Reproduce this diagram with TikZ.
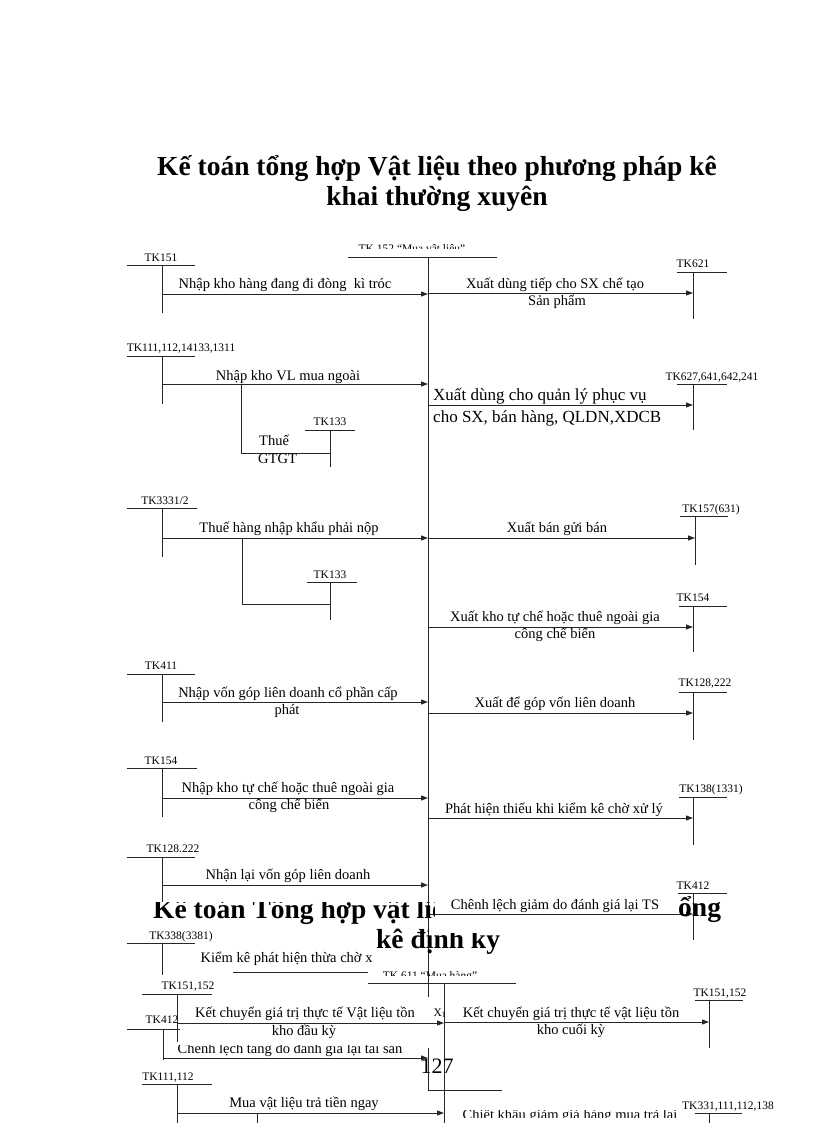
\documentclass[tikz,border=0pt]{standalone}
\usepackage{fontspec}
\setmainfont{Liberation Serif}
\usetikzlibrary{arrows.meta}
\newcommand\myfs[1]{\fontsize{#1}{#1}\selectfont}
\tikzset{
 ln/.style={line width=1pt, draw=black!85},
 arr/.style={ln, -{Triangle[length=7pt,width=5pt]}},
 tk/.style={font=\myfs{11.5}, inner sep=0pt, anchor=base},
 lb/.style={font=\myfs{14.5}, inner sep=0pt, anchor=base},
 big/.style={font=\myfs{17}, inner sep=0pt, anchor=base west},
 ttl/.style={font=\bfseries\myfs{27.5}, inner sep=0pt, anchor=base},
 ttlw/.style={font=\bfseries\myfs{27.5}, inner sep=0pt, anchor=base west},
}
% T-account: name, x of stem, y of bar, bar left, bar right, stem end, label x, label baseline, text
\newcommand\Tacc[9]{%
  \node[tk] (#1) at (#7,#8) {#9};
  \coordinate (#1-l) at (#4,#3);
  \coordinate (#1-r) at (#5,#3);
  \coordinate (#1-t) at (#2,#3);
  \coordinate (#1-b) at (#2,#6);
  \draw[ln] (#1-l) -- (#1-r);
  \draw[ln] (#1-t) -- (#1-b);}
% arrow: name, x start, x end, y
\newcommand\Arr[4]{%
  \coordinate (#1-s) at (#2,#4);
  \coordinate (#1-e) at (#3,#4);
  \draw[arr] (#1-s) -- (#1-e);}
\begin{document}
\begin{tikzpicture}[x=1pt,y=-1pt]
\useasboundingbox (0,0) rectangle (816,1123);
\clip (0,0) rectangle (816,1123);
\fill[white] (0,0) rectangle (816,1123);

% ---------- title ----------
\node[ttl] (t1) at (437,176) {Kế toán tổng hợp Vật liệu theo phương pháp kê};
\node[ttl] (t2) at (437,206) {khai thường xuyên};

% ---------- central account TK152 ----------
\begin{scope}
  \clip (330,230) rectangle (520,248.5);
  \node[tk] (h1) at (412,252) {TK 152 “Mua vật liệu”};
\end{scope}
\coordinate (cb-l) at (348,257); \coordinate (cb-r) at (497,257);
\coordinate (c-top) at (428,257); \coordinate (c-bot) at (428,997);
\draw[ln] (cb-l) -- (cb-r);
\draw[ln] (c-top) -- (c-bot);

% ---------- left accounts ----------
\Tacc{tkA}{162}{265}{127}{195}{313}{161}{261}{TK151}
\Tacc{tkB}{162}{356}{127}{195}{404}{181}{351}{TK111,112,14133,1311}
\Tacc{tkC}{330}{430}{305}{355}{467}{330}{425}{TK133}
\Tacc{tkD}{162}{508}{127}{197}{557}{165}{504}{TK3331/2}
\Tacc{tkE}{330}{582}{307}{357}{620}{330}{578}{TK133}
\Tacc{tkF}{162}{674}{127}{195}{722}{161}{669}{TK411}
\Tacc{tkG}{162}{768}{127}{197}{817}{161}{764}{TK154}
\Tacc{tkH}{162}{857}{127}{195}{902}{173}{852}{TK128.222}
\Tacc{tkI}{162}{943}{127}{195}{975}{181}{939}{TK338(3381)}

% ---------- right accounts ----------
\Tacc{tkJ}{693}{272}{677}{727}{319}{693}{267}{TK621}
\Tacc{tkK}{693}{384}{677}{727}{430}{712}{380}{TK627,641,642,241}
\Tacc{tkL}{695}{516}{680}{728}{565}{711}{512}{TK157(631)}
\Tacc{tkM}{693}{606}{679}{727}{652}{693}{601}{TK154}
\Tacc{tkN}{693}{692}{679}{727}{740}{705}{686}{TK128,222}
\Tacc{tkO}{693}{797}{679}{727}{845}{711}{792}{TK138(1331)}
\Tacc{tkP}{693}{893}{678}{727}{940}{693}{889}{TK412}

% ---------- arrows into TK152 ----------
\Arr{aA}{162}{428}{294}
\Arr{aB}{162}{428}{384}
\Arr{aD}{162}{428}{538}
\Arr{aF}{162}{428}{702}
\Arr{aG}{162}{428}{798}
\Arr{aH}{162}{428}{885}
% VAT branches
\coordinate (bB1) at (241,384); \coordinate (bB2) at (241,453); \coordinate (bB3) at (330,453);
\draw[ln] (bB1) -- (bB2) -- (bB3);
\coordinate (bD1) at (242,538); \coordinate (bD2) at (242,604); \coordinate (bD3) at (330,604);
\draw[ln] (bD1) -- (bD2) -- (bD3);

% ---------- arrows out of TK152 ----------
\Arr{aJ}{428}{693}{293}
\Arr{aK}{428}{693}{405}
\Arr{aL}{428}{695}{538}
\Arr{aM}{428}{693}{627}
\Arr{aN}{428}{693}{713}
\Arr{aO}{428}{693}{818}
\Arr{aP}{428}{693}{914}

% ---------- labels left ----------
\node[lb] (lA) at (285,288) {Nhập kho hàng đang đi đòng\ \ kì tróc};
\node[lb] (lB) at (288,380) {Nhập kho VL mua ngoài};
\node[lb, anchor=base west] (lB2) at (259,445) {Thuế};
\node[lb, anchor=base west] (lB3) at (258,463) {GTGT};
\node[lb] (lD) at (289,532) {Thuế hàng nhập khẩu phải nộp};
\node[lb] (lF) at (288,697) {Nhập vốn góp liên doanh cổ phần cấp};
\node[lb] (lF2) at (287,714) {phát};
\node[lb] (lG) at (288,792) {Nhập kho tự chế hoặc thuê ngoài gia};
\node[lb] (lG2) at (289,809) {công chế biến};
\node[lb] (lH) at (288,879) {Nhận lại vốn góp liên doanh};
\begin{scope}
  \clip (150,940) rectangle (371,975);
  \node[lb] (lI) at (298,962) {Kiểm kê phát hiện thừa chờ xử lý};
\end{scope}
\coordinate (lI-s) at (233,972); \coordinate (lI-e) at (368,972);
\draw[ln] (lI-s) -- (lI-e);

% ---------- labels right ----------
\node[lb] (lJ) at (555,288) {Xuất dùng tiếp cho SX chế tạo};
\node[lb] (lJ2) at (557,305) {Sản phẩm};
\node[big] (lK) at (433,400) {Xuất dùng cho quản lý phục vụ};
\node[big] (lK2) at (433,422) {cho SX, bán hàng, QLDN,XDCB};
\node[lb] (lL) at (557,532) {Xuất bán gửi bán};
\node[lb] (lM) at (555,621) {Xuất kho tự chế hoặc thuê ngoài gia};
\node[lb] (lM2) at (555,638) {công chế biến};
\node[lb] (lN) at (555,707) {Xuất để góp vốn liên doanh};
\node[lb] (lO) at (554,813) {Phát hiện thiếu khi kiểm kê chờ xử lý};
\node[lb] (lP) at (555,909) {Chênh lệch giảm do đánh giá lại TS};

% ---------- second title (partly covered) ----------
\begin{scope}
  \clip (140,902) rectangle (434,935);
  \node[ttlw] (s1) at (153,918) {Kế toán Tổng hợp vật liệu};
\end{scope}
\node[ttlw] (s1b) at (678,916) {ổng};
\begin{scope}
  \clip (360,920) rectangle (428,960);
  \node[ttlw] (s2) at (376,948) {kê định kỳ};
\end{scope}
\begin{scope}
  \clip (428,933) rectangle (520,960);
  \node[ttlw] (s2b) at (376,948) {kê định kỳ};
\end{scope}

% ---------- second diagram: TK611 ----------
\begin{scope}
  \clip (360,960) rectangle (520,975.5);
  \node[tk] (h2) at (430,979) {TK 611 “Mua hàng”};
\end{scope}
\coordinate (db-l) at (368,983); \coordinate (db-r) at (516,983);
\coordinate (d-top) at (444,983); \coordinate (d-bot) at (444,1123);
\draw[ln] (db-l) -- (db-r);
\draw[ln] (d-top) -- (d-bot);

\Tacc{tkQ}{177}{994}{142}{212}{1042}{188}{989}{TK151,152}
\Tacc{tkR}{163}{1029}{127}{180}{1060}{162}{1023}{TK412}
\Tacc{tkS}{177}{1084}{142}{212}{1123}{168}{1080}{TK111,112}
\Tacc{tkT}{709}{1000}{695}{743}{1048}{720}{996}{TK151,152}
\Tacc{tkU}{709}{1113}{695}{742}{1123}{728}{1109}{TK331,111,112,138}

\Arr{aQ}{177}{444}{1023}
\Arr{aR}{163}{428}{1058}
\Arr{aS}{177}{444}{1113}
\Arr{aT}{444}{709}{1022}
\coordinate (bS1) at (257,1113); \coordinate (bS2) at (257,1123);
\draw[ln] (bS1) -- (bS2);

\node[lb] (lQ) at (305,1017) {Kết chuyển giá trị thực tế Vật liệu tồn};
\node[lb] (lQ2) at (304,1035) {kho đầu kỳ};
\node[tk] (x1) at (440,1016) {X\textsubscript{1}};
\begin{scope}
  \clip (150,1045.5) rectangle (430,1060);
  \node[lb] (lR) at (290,1053) {Chênh lệch tăng do đánh giá lại tài sản};
\end{scope}
\node[lb] (lS) at (304,1107) {Mua vật liệu trả tiền ngay};
\node[lb] (lT) at (571,1017) {Kết chuyển giá trị thực tế vật liệu tồn};
\node[lb] (lT2) at (571,1034) {kho cuối kỳ};
\begin{scope}
  \clip (440,1110.5) rectangle (700,1117);
  \node[lb] (lU) at (570,1119.5) {Chiết khấu giảm giá hàng mua trả lại};
\end{scope}

% ---------- page number ----------
\node[font=\myfs{22}, inner sep=0pt, anchor=base] (pg) at (437,1073) {127};
\coordinate (pg-a) at (428,1048); \coordinate (pg-b) at (428,1090); \coordinate (pg-c) at (502,1090);
\draw[ln] (pg-a) -- (pg-b) -- (pg-c);
\end{tikzpicture}
\end{document}
